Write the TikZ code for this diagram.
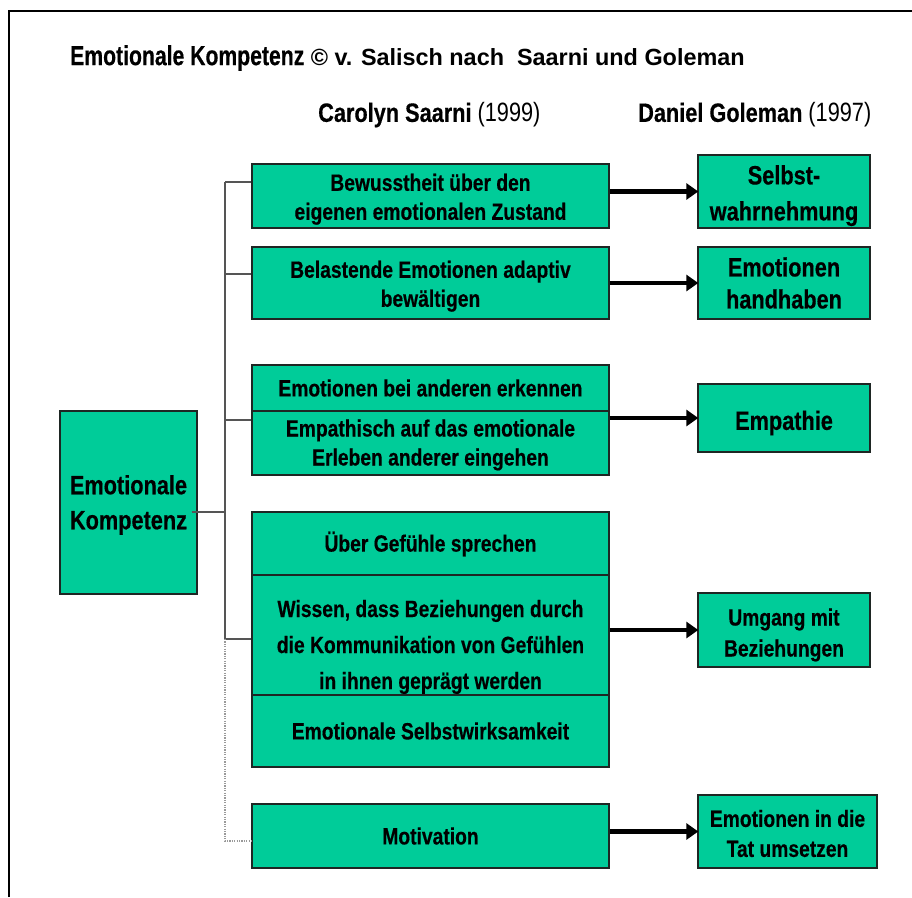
\documentclass[tikz,border=0pt]{standalone}
\usepackage{fontspec}
\setmainfont{Liberation Sans}[FakeStretch=0.82, BoldFeatures={FakeBold=0.4}]
\newfontfamily\widesans{Liberation Sans}
\newfontfamily\titlesans{Liberation Sans}[FakeStretch=0.77, BoldFeatures={FakeBold=0.4}]
\usetikzlibrary{arrows.meta}
\definecolor{boxgreen}{HTML}{00CC99}
\definecolor{boxedge}{HTML}{1E2623}
\definecolor{trunkgray}{HTML}{555555}
\definecolor{dotgray}{HTML}{9A9A9A}

% strut that lowers a centred text block by half of (#1 - natural height)
\newcommand{\lowerstrut}[1]{\rule{0pt}{#1}}

\tikzset{
  greenbox/.style={draw=boxedge, line width=1.4pt, fill=boxgreen, inner sep=2pt,
    align=center, font=\bfseries\fontsize{23.5}{29}\selectfont},
  bigtext/.style={font=\bfseries\fontsize{26.5}{33}\selectfont},
  branch/.style={draw=trunkgray, line width=1.4pt},
  dotbranch/.style={draw=dotgray, line width=1.3pt, dash pattern=on 1.2pt off 1.2pt},
  maparrow/.style={draw=black, line width=4.5pt,
    -{Triangle[length=12pt, width=16pt]}, shorten >=-1pt},
  frame/.style={draw=black, line width=2.2pt}
}

\begin{document}
\begin{tikzpicture}[x=1pt, y=-1pt]
\useasboundingbox (0,0) rectangle (912,897);

% outer frame (top and left edges)
\draw[frame] (9,897) -- (9,11) -- (913,11);

% title and column heads
\node[anchor=west, inner sep=0] (title) at (70,58)
  {\titlesans\bfseries\fontsize{27.5}{32}\selectfont Emotionale Kompetenz%
   \widesans\fontsize{23.4}{30}\selectfont\ \textcopyright{} v. Salisch nach\ \ Saarni und Goleman};
\node[anchor=west, inner sep=0, font=\fontsize{26.5}{32}\selectfont] (headS) at (318,115)
  {\textbf{Carolyn Saarni} (1999)};
\node[anchor=west, inner sep=0, font=\fontsize{26.5}{32}\selectfont] (headG) at (638,115)
  {\textbf{Daniel Goleman} (1997)};

% root
\node[greenbox, bigtext, minimum width=137, minimum height=183,
      font=\bfseries\fontsize{26.5}{35}\selectfont] (root) at (128.5,502.5)
  {\lowerstrut{24pt}Emotionale\\Kompetenz};

% Saarni column
\node[greenbox, minimum width=357, minimum height=64] (b1) at (430.5,196)
  {\lowerstrut{23.5pt}Bewusstheit über den\\eigenen emotionalen Zustand};
\node[greenbox, minimum width=357, minimum height=72] (b2) at (430.5,283)
  {\lowerstrut{23.5pt}Belastende Emotionen adaptiv\\bewältigen};
\node[greenbox, minimum width=357, minimum height=46] (b3a) at (430.5,388)
  {Emotionen bei anderen erkennen};
\node[greenbox, minimum width=357, minimum height=64] (b3b) at (430.5,443)
  {\lowerstrut{21pt}Empathisch auf das emotionale\\Erleben anderer eingehen};
\node[greenbox, minimum width=357, minimum height=64] (b4a) at (430.5,544)
  {Über Gefühle sprechen};
\node[greenbox, minimum width=357, minimum height=119,
      font=\bfseries\fontsize{23.5}{36}\selectfont] (b4b) at (430.5,635.5)
  {\lowerstrut{40pt}Wissen, dass Beziehungen durch\\die Kommunikation von Gefühlen\\in ihnen geprägt werden};
\node[greenbox, minimum width=357, minimum height=72] (b4c) at (430.5,731)
  {Emotionale Selbstwirksamkeit};
\node[greenbox, minimum width=357, minimum height=64] (b5) at (430.5,836)
  {Motivation};

% Goleman column
\node[greenbox, bigtext, minimum width=172, minimum height=73,
      font=\bfseries\fontsize{26.5}{36}\selectfont] (g1) at (784,191.5)
  {\lowerstrut{27.5pt}Selbst-\\wahrnehmung};
\node[greenbox, bigtext, minimum width=172, minimum height=72,
      font=\bfseries\fontsize{26.5}{32}\selectfont] (g2) at (784,283)
  {Emotionen\\handhaben};
\node[greenbox, bigtext, minimum width=172, minimum height=68] (g3) at (784,418)
  {\raisebox{-5pt}[\height][\depth]{Empathie}};
\node[greenbox, minimum width=172, minimum height=74,
      font=\bfseries\fontsize{23.5}{31}\selectfont] (g4) at (784,630)
  {\lowerstrut{27pt}Umgang mit\\Beziehungen};
\node[greenbox, minimum width=179, minimum height=73,
      font=\bfseries\fontsize{23.5}{30}\selectfont] (g5) at (787.5,831.5)
  {\lowerstrut{21pt}Emotionen in die\\Tat umsetzen};

% tree connectors
\coordinate (t1) at (225,182);
\coordinate (t2) at (225,274);
\coordinate (t3) at (225,420);
\coordinate (troot) at (225,512);
\coordinate (t4) at (225,639);
\coordinate (t5) at (225,841);

\draw[branch] (t1) -- (t4);
\draw[branch] (t1) -- (t1 -| b1.west);
\draw[branch] (t2) -- (t2 -| b2.west);
\draw[branch] (t3) -- (t3 -| b3b.west);
\draw[branch] (t4) -- (t4 -| b4b.west);
\draw[branch] ([xshift=-6pt]troot -| root.east) -- (troot);
\draw[dotbranch] (t4) -- (t5) -- (t5 -| b5.west);

% mapping arrows
\draw[maparrow] (g1.west -| b1.east) -- (g1.west);
\draw[maparrow] (g2.west -| b2.east) -- (g2.west);
\draw[maparrow] (g3.west -| b3b.east) -- (g3.west);
\draw[maparrow] (g4.west -| b4b.east) -- (g4.west);
\draw[maparrow] (g5.west -| b5.east) -- (g5.west);
\end{tikzpicture}
\end{document}
